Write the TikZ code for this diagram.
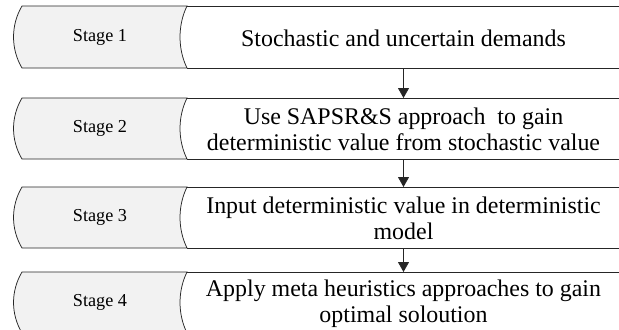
\documentclass[tikz,border=0pt]{standalone}
\usepackage{fontspec}
\setmainfont{Liberation Serif}
\usetikzlibrary{arrows.meta}

% One row of the flow: a curved grey stage tab followed by an open white band.
% #1 name, #2 top y, #3 bottom y, #4 stage label, #5 description
\newcommand\stagerow[5]{%
  \pgfmathsetmacro\rowmid{(#2+#3)/2}
  \fill[white] (187,#2) rectangle (622,#3);
  \draw[outline] (187,#2) -- (622,#2) (187,#3) -- (622,#3);
  \draw[outline, stagefill]
    (22,#2) -- (187,#2)
    .. controls (177.7,#2+19) and (177.7,#3-19) .. (187,#3)
    -- (22,#3)
    .. controls (10.7,#3-19) and (10.7,#2+19) .. (22,#2) -- cycle;
  \node[stagelabel] (#1label) at (100,\rowmid) {#4};
  \node[desc] (#1text) at (403.5,\rowmid+1) {#5};
  \coordinate (#1top) at (403.5,#2);
  \coordinate (#1bot) at (403.5,#3);
}

\begin{document}
\begin{tikzpicture}[x=1bp, y=-1bp,
  outline/.style={draw=black!85, line width=0.75bp},
  stagefill/.style={fill=black!5},
  stagelabel/.style={font=\fontsize{18.3}{21}\selectfont, inner sep=0pt},
  desc/.style={font=\fontsize{24}{26.5}\selectfont, align=center, inner sep=0pt},
  flow/.style={-{Triangle[width=11bp,length=10bp]}, line width=0.75bp, draw=black!85, fill=black}]
\useasboundingbox (0,0) rectangle (619,329);
\clip (0,0) rectangle (619,329);

\stagerow{r1}{6}{68}{Stage 1}{Stochastic and uncertain demands}
\stagerow{r2}{98}{159}{Stage 2}{Use SAPSR\&S approach\ \ to gain\\deterministic value from stochastic value}
\stagerow{r3}{187}{248}{Stage 3}{Input deterministic value in deterministic\\model}
\stagerow{r4}{272}{333}{Stage 4}{Apply meta heuristics approaches to gain\\optimal soloution}

\draw[flow] (r1bot) -- (r2top);
\draw[flow] (r2bot) -- (r3top);
\draw[flow] (r3bot) -- (r4top);
\end{tikzpicture}
\end{document}
